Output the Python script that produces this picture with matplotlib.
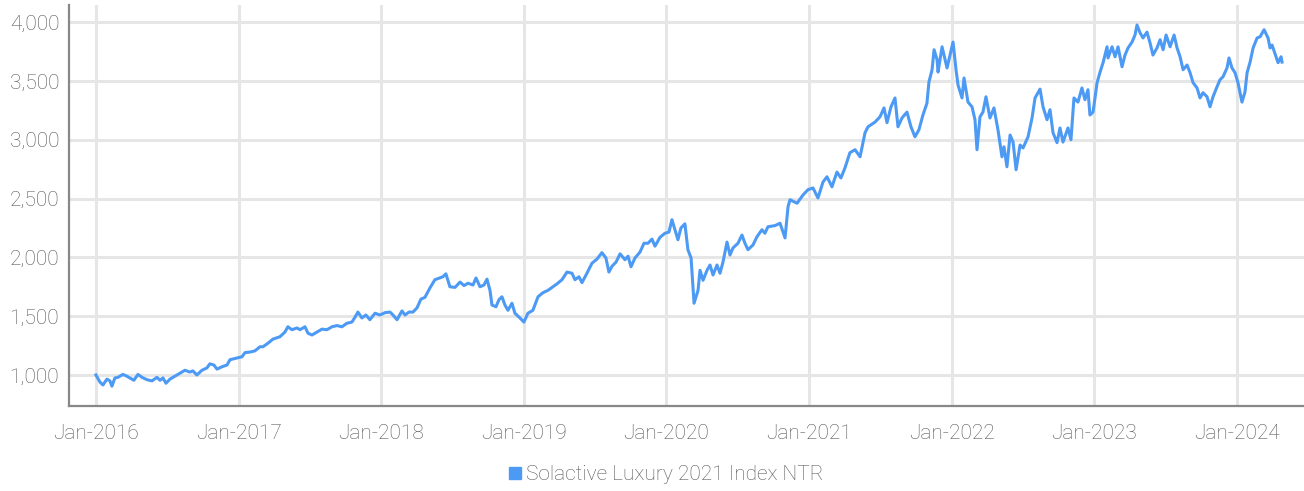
import numpy as np
import pandas as pd
import matplotlib
matplotlib.use("Agg")
import matplotlib.pyplot as plt
import matplotlib.dates as mdates
from matplotlib.lines import Line2D

# index level, time as decimal years
anos = [
    2016.000, 2016.028, 2016.049, 2016.077, 2016.098, 2016.112, 2016.133, 2016.154, 2016.189, 2016.217,
    2016.238, 2016.266, 2016.295, 2016.323, 2016.358, 2016.393, 2016.428, 2016.449, 2016.470, 2016.491,
    2016.519, 2016.554, 2016.589, 2016.624, 2016.659, 2016.680, 2016.708, 2016.743, 2016.778, 2016.799,
    2016.827, 2016.849, 2016.884, 2016.919, 2016.940, 2016.989, 2017.024, 2017.045, 2017.080, 2017.115,
    2017.150, 2017.171, 2017.206, 2017.241, 2017.290, 2017.325, 2017.346, 2017.374, 2017.410, 2017.431,
    2017.466, 2017.487, 2017.515, 2017.550, 2017.585, 2017.620, 2017.655, 2017.690, 2017.725, 2017.760,
    2017.795, 2017.816, 2017.837, 2017.865, 2017.893, 2017.921, 2017.957, 2017.992, 2018.027, 2018.062,
    2018.083, 2018.111, 2018.146, 2018.167, 2018.195, 2018.223, 2018.251, 2018.279, 2018.307, 2018.342,
    2018.377, 2018.412, 2018.433, 2018.454, 2018.482, 2018.518, 2018.553, 2018.581, 2018.609, 2018.644,
    2018.665, 2018.693, 2018.721, 2018.742, 2018.763, 2018.777, 2018.805, 2018.826, 2018.847, 2018.868,
    2018.889, 2018.917, 2018.938, 2018.973, 2019.001, 2019.029, 2019.064, 2019.100, 2019.135, 2019.170,
    2019.205, 2019.233, 2019.268, 2019.303, 2019.338, 2019.359, 2019.387, 2019.408, 2019.443, 2019.478,
    2019.513, 2019.548, 2019.576, 2019.597, 2019.619, 2019.647, 2019.675, 2019.710, 2019.731, 2019.752,
    2019.780, 2019.815, 2019.843, 2019.871, 2019.899, 2019.920, 2019.955, 2019.990, 2020.018, 2020.039,
    2020.060, 2020.081, 2020.102, 2020.130, 2020.151, 2020.173, 2020.194, 2020.222, 2020.236, 2020.257,
    2020.285, 2020.306, 2020.327, 2020.355, 2020.376, 2020.397, 2020.425, 2020.446, 2020.467, 2020.502,
    2020.530, 2020.551, 2020.572, 2020.607, 2020.635, 2020.670, 2020.691, 2020.712, 2020.762, 2020.797,
    2020.832, 2020.853, 2020.867, 2020.916, 2020.958, 2020.993, 2021.028, 2021.063, 2021.098, 2021.126,
    2021.161, 2021.196, 2021.224, 2021.252, 2021.287, 2021.323, 2021.358, 2021.393, 2021.414, 2021.463,
    2021.498, 2021.526, 2021.547, 2021.575, 2021.603, 2021.624, 2021.652, 2021.687, 2021.715, 2021.743,
    2021.771, 2021.799, 2021.827, 2021.841, 2021.863, 2021.877, 2021.898, 2021.905, 2021.933, 2021.968,
    2021.989, 2022.010, 2022.031, 2022.045, 2022.073, 2022.087, 2022.115, 2022.143, 2022.164, 2022.178,
    2022.199, 2022.220, 2022.241, 2022.269, 2022.297, 2022.325, 2022.353, 2022.367, 2022.388, 2022.410,
    2022.431, 2022.452, 2022.480, 2022.501, 2022.536, 2022.564, 2022.585, 2022.620, 2022.641, 2022.669,
    2022.690, 2022.711, 2022.739, 2022.760, 2022.781, 2022.816, 2022.837, 2022.858, 2022.886, 2022.914,
    2022.935, 2022.956, 2022.970, 2022.992, 2023.020, 2023.041, 2023.062, 2023.090, 2023.097, 2023.125,
    2023.146, 2023.167, 2023.195, 2023.216, 2023.237, 2023.265, 2023.286, 2023.300, 2023.321, 2023.342,
    2023.370, 2023.391, 2023.412, 2023.440, 2023.462, 2023.483, 2023.504, 2023.532, 2023.560, 2023.581,
    2023.602, 2023.623, 2023.651, 2023.672, 2023.693, 2023.721, 2023.742, 2023.763, 2023.791, 2023.812,
    2023.833, 2023.861, 2023.882, 2023.903, 2023.931, 2023.945, 2023.966, 2023.987, 2024.008, 2024.036,
    2024.057, 2024.072, 2024.093, 2024.114, 2024.142, 2024.163, 2024.191, 2024.219, 2024.233, 2024.247,
    2024.275, 2024.289, 2024.310, 2024.317,
]
valores = [
    1000, 940, 915, 965, 950, 905, 975, 980, 1005, 990,
    975, 955, 1005, 980, 960, 950, 980, 955, 975, 930,
    965, 990, 1015, 1040, 1025, 1035, 1000, 1040, 1060, 1095,
    1085, 1050, 1070, 1085, 1130, 1145, 1155, 1190, 1195, 1205,
    1240, 1240, 1270, 1305, 1325, 1365, 1410, 1385, 1400, 1385,
    1410, 1355, 1340, 1365, 1390, 1385, 1410, 1420, 1410, 1440,
    1450, 1490, 1535, 1485, 1510, 1470, 1525, 1510, 1530, 1535,
    1510, 1470, 1545, 1510, 1535, 1535, 1570, 1645, 1660, 1740,
    1810, 1825, 1835, 1860, 1750, 1745, 1790, 1760, 1780, 1765,
    1825, 1750, 1765, 1815, 1720, 1595, 1580, 1640, 1665, 1595,
    1550, 1610, 1525, 1485, 1450, 1525, 1550, 1665, 1700, 1720,
    1750, 1775, 1810, 1875, 1865, 1810, 1835, 1785, 1865, 1950,
    1985, 2040, 1995, 1875, 1925, 1960, 2030, 1980, 2010, 1920,
    1995, 2045, 2120, 2120, 2155, 2095, 2170, 2205, 2215, 2320,
    2235, 2150, 2250, 2285, 2065, 1995, 1610, 1720, 1890, 1805,
    1890, 1935, 1850, 1935, 1865, 1960, 2130, 2020, 2080, 2120,
    2190, 2120, 2065, 2105, 2175, 2235, 2205, 2260, 2270, 2290,
    2165, 2430, 2490, 2460, 2530, 2575, 2590, 2505, 2640, 2685,
    2600, 2725, 2675, 2760, 2890, 2915, 2855, 3060, 3110, 3150,
    3195, 3270, 3145, 3280, 3355, 3110, 3185, 3235, 3110, 3025,
    3085, 3210, 3310, 3490, 3595, 3765, 3680, 3575, 3790, 3610,
    3720, 3830, 3595, 3465, 3355, 3525, 3320, 3280, 3170, 2915,
    3195, 3235, 3365, 3185, 3270, 3085, 2855, 2940, 2770, 3040,
    2980, 2745, 2955, 2930, 3025, 3185, 3355, 3430, 3280, 3170,
    3255, 3060, 2975, 3100, 2980, 3100, 3000, 3355, 3320, 3440,
    3340, 3425, 3210, 3235, 3485, 3575, 3655, 3790, 3695, 3790,
    3705, 3790, 3620, 3720, 3780, 3830, 3890, 3975, 3910, 3865,
    3915, 3825, 3720, 3780, 3850, 3765, 3890, 3790, 3890, 3780,
    3705, 3595, 3635, 3570, 3485, 3440, 3355, 3400, 3365, 3280,
    3365, 3450, 3510, 3535, 3610, 3695, 3610, 3570, 3485, 3320,
    3405, 3570, 3660, 3780, 3865, 3875, 3935, 3865, 3780, 3805,
    3705, 3655, 3705, 3660,
]
serie = "Solactive Luxury 2021 Index NTR"


def ano_para_data(a):
    a = np.asarray(a, dtype=float)
    return pd.Timestamp("2016-01-01") + pd.to_timedelta((a - 2016) * 365.25, unit="D")


datas = ano_para_data(anos)

azul = "#4d9af5"
cinza = "#555555"
plt.rcParams["font.family"] = ["Roboto", "DejaVu Sans"]
plt.rcParams["font.weight"] = "light"

fig = plt.figure(figsize=(13.04, 4.91), dpi=100)
ax = fig.add_axes([0.0529, 0.173, 0.9471, 0.817])

ax.plot(datas, valores, color=azul, lw=2.2, zorder=3)

ax.set_ylim(736, 4146)
ax.set_xlim(ano_para_data(2015.811), ano_para_data(2024.471))
ax.set_yticks([1000, 1500, 2000, 2500, 3000, 3500, 4000])
ax.yaxis.set_major_formatter(matplotlib.ticker.FuncFormatter(lambda v, p: f"{int(v):,}"))
ax.xaxis.set_major_locator(mdates.YearLocator())
ax.xaxis.set_major_formatter(mdates.DateFormatter("Jan-%Y"))

ax.grid(True, color="#e6e6e6", lw=2.2, zorder=0)
ax.set_axisbelow(True)
for lado in ["top", "right"]:
    ax.spines[lado].set_visible(False)
for lado in ["left", "bottom"]:
    ax.spines[lado].set_color("#888888")
    ax.spines[lado].set_linewidth(1.6)

ax.tick_params(length=0, labelsize=15, labelcolor=cinza)
ax.tick_params(axis="y", pad=7)
ax.tick_params(axis="x", pad=13)

handle = Line2D([], [], marker="s", color=azul, linestyle="None", markersize=8)
fig.legend([handle], [serie], loc="center", bbox_to_anchor=(0.51, 0.033),
           frameon=False, fontsize=15, labelcolor=cinza, handletextpad=0.1,
           handlelength=0.8)

fig.savefig("out.png", dpi=100)
